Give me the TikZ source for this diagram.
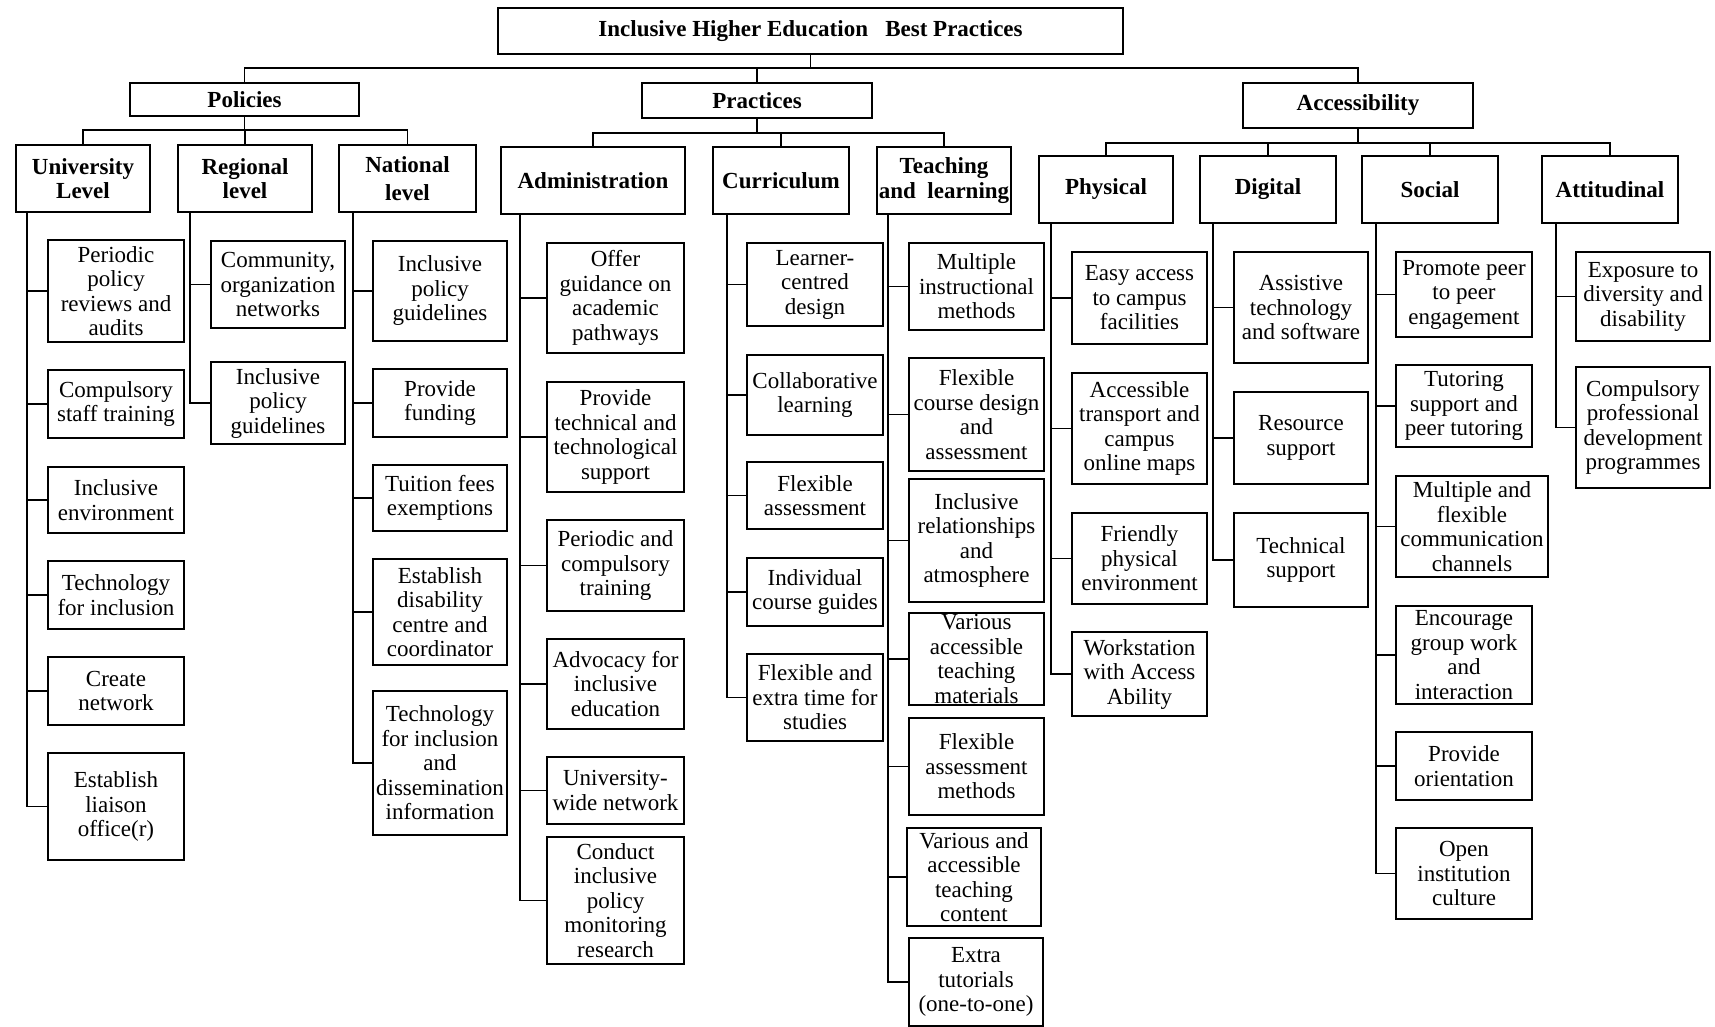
\documentclass[tikz,border=0pt]{standalone}
\usepackage{fontspec}
\setmainfont{Liberation Serif}
\newcommand\fs{\fontsize{23}{24.5}\selectfont}
\tikzset{
  box/.style={draw, line width=1.6pt, align=center, inner sep=1pt, font=\fs},
  head/.style={box, font=\fs\bfseries},
  ln/.style={line width=1.6pt}
}
% [style] name x1 y1 x2 y2 text
\newcommand\bx[7][box]{\node[#1, minimum width={(#5)-(#3)}, minimum height={(#6)-(#4)}] (#2) at ({((#3)+(#5))/2},{((#4)+(#6))/2}) {#7};}
\begin{document}
\begin{tikzpicture}[x=1pt,y=-1pt]
\fill[white] (0,0) rectangle (1715,1027);
\useasboundingbox (0,0) rectangle (1715,1027);
% top levels
\bx[head]{title}{498}{8}{1123}{54}{Inclusive Higher Education~~ Best Practices}
\bx[head]{pol}{130}{83}{359}{116}{Policies}
\bx[head]{prac}{642}{83}{872}{118}{Practices}
\bx[head]{acc}{1243}{83}{1473}{128}{Accessibility}
% second level
\bx[head]{ul}{16}{145}{150}{212}{University\\Level}
\bx[head]{rl}{178}{145}{312}{212}{Regional\\level}
\bx[head]{nl}{339}{145}{476}{212}{National\\[3pt]level}
\bx[head]{ad}{501}{147}{685}{214}{Administration}
\bx[head]{cu}{713}{147}{849}{214}{Curriculum}
\bx[head]{tl}{877}{147}{1011}{214}{Teaching\\and~ learning}
\bx[head]{ph}{1039}{156}{1173}{223}{Physical}
\bx[head]{di}{1200}{156}{1336}{223}{Digital}
\bx[head]{so}{1362}{156}{1498}{223}{Social}
\bx[head]{at}{1542}{156}{1678}{223}{Attitudinal}
% University level
\bx{u1}{48}{240}{184}{342}{Periodic\\policy\\reviews and\\audits}
\bx{u2}{48}{370}{184}{438}{Compulsory\\staff training}
\bx{u3}{48}{467}{184}{533}{Inclusive\\environment}
\bx{u4}{48}{561}{184}{629}{Technology\\for inclusion}
\bx{u5}{48}{657}{184}{725}{Create\\network}
\bx{u6}{48}{753}{184}{860}{Establish\\liaison\\office(r)}
% Regional
\bx{r1}{211}{241}{345}{328}{Community,\\organization\\networks}
\bx{r2}{211}{362}{345}{444}{Inclusive\\policy\\guidelines}
% National
\bx{n1}{373}{241}{507}{341}{Inclusive\\policy\\guidelines}
\bx{n2}{373}{369}{507}{437}{Provide\\funding}
\bx{n3}{373}{465}{507}{531}{Tuition fees\\exemptions}
\bx{n4}{373}{559}{507}{665}{Establish\\disability\\centre and\\coordinator}
\bx{n5}{373}{691}{507}{835}{Technology\\for inclusion\\and\\dissemination\\information}
% Administration
\bx{a1}{547}{243}{684}{353}{Offer\\guidance on\\academic\\pathways}
\bx{a2}{547}{382}{684}{492}{Provide\\technical and\\technological\\support}
\bx{a3}{547}{520}{684}{611}{Periodic and\\compulsory\\training}
\bx{a4}{547}{639}{684}{729}{Advocacy for\\inclusive\\education}
\bx{a5}{547}{757}{684}{824}{University-\\wide network}
\bx{a6}{547}{837}{684}{964}{Conduct\\inclusive\\policy\\monitoring\\research}
% Curriculum
\bx{c1}{747}{243}{883}{326}{Learner-\\centred\\design}
\bx{c2}{747}{355}{883}{435}{Collaborative\\learning}
\bx{c3}{747}{462}{883}{529}{Flexible\\assessment}
\bx{c4}{747}{558}{883}{626}{Individual\\course guides}
\bx{c5}{747}{654}{883}{741}{Flexible and\\extra time for\\studies}
% Teaching and learning
\bx{t1}{909}{243}{1044}{330}{Multiple\\instructional\\methods}
\bx{t2}{909}{358}{1044}{471}{Flexible\\course design\\and\\assessment}
\bx{t3}{909}{479}{1044}{602}{Inclusive\\relationships\\and\\atmosphere}
\bx{t4}{909}{613}{1044}{705}{Various\\accessible\\teaching\\materials}
\bx{t5}{909}{718}{1044}{815}{Flexible\\assessment\\methods}
\bx{t6}{907}{828}{1041}{926}{Various and\\accessible\\teaching\\content}
\bx{t7}{909}{938}{1043}{1026}{Extra\\tutorials\\(one-to-one)}
% Physical
\bx{p1}{1072}{252}{1207}{344}{Easy access\\to campus\\facilities}
\bx{p2}{1072}{373}{1207}{484}{Accessible\\transport and\\campus\\online maps}
\bx{p3}{1072}{513}{1207}{604}{Friendly\\physical\\environment}
\bx{p4}{1072}{632}{1207}{716}{Workstation\\with Access\\Ability}
% Digital
\bx{d1}{1234}{252}{1368}{363}{Assistive\\technology\\and software}
\bx{d2}{1234}{392}{1368}{484}{Resource\\support}
\bx{d3}{1234}{513}{1368}{607}{Technical\\support}
% Social
\bx{s1}{1396}{252}{1532}{337}{Promote peer\\to peer\\engagement}
\bx{s2}{1396}{365}{1532}{447}{Tutoring\\support and\\peer tutoring}
\bx{s3}{1396}{476}{1548}{577}{Multiple and\\flexible\\communication\\channels}
\bx{s4}{1396}{606}{1532}{704}{Encourage\\group work\\and\\interaction}
\bx{s5}{1396}{732}{1532}{800}{Provide\\orientation}
\bx{s6}{1396}{828}{1532}{919}{Open\\institution\\culture}
% Attitudinal
\bx{x1}{1576}{252}{1710}{341}{Exposure to\\diversity and\\disability}
\bx{x2}{1576}{367}{1710}{488}{Compulsory\\professional\\development\\programmes}
% buses
\coordinate (b0) at (0,68);
\coordinate (b1) at (0,130);
\coordinate (b2) at (0,133);
\coordinate (b3) at (0,143);
\draw[ln] (title.south) -- (title.south |- b0);
\draw[ln] (pol.north) -- (pol.north |- b0) -- (acc.north |- b0) -- (acc.north);
\draw[ln] (prac.north) -- (prac.north |- b0);
\draw[ln] (pol.south) -- (pol.south |- b1);
\draw[ln] (ul.north) -- (ul.north |- b1) -- (nl.north |- b1) -- (nl.north);
\draw[ln] (rl.north) -- (rl.north |- b1);
\draw[ln] (prac.south) -- (prac.south |- b2);
\draw[ln] (ad.north) -- (ad.north |- b2) -- (tl.north |- b2) -- (tl.north);
\draw[ln] (cu.north) -- (cu.north |- b2);
\draw[ln] (acc.south) -- (acc.south |- b3);
\draw[ln] (ph.north) -- (ph.north |- b3) -- (at.north |- b3) -- (at.north);
\draw[ln] (di.north) -- (di.north |- b3);
\draw[ln] (so.north) -- (so.north |- b3);
% trunks
\coordinate (tU) at ([xshift=12pt]ul.south west);
\coordinate (tR) at ([xshift=13pt]rl.south west);
\coordinate (tN) at ([xshift=15pt]nl.south west);
\coordinate (tA) at ([xshift=20pt]ad.south west);
\coordinate (tC) at ([xshift=15pt]cu.south west);
\coordinate (tT) at ([xshift=12pt]tl.south west);
\coordinate (tP) at ([xshift=13pt]ph.south west);
\coordinate (tD) at ([xshift=14pt]di.south west);
\coordinate (tS) at ([xshift=15pt]so.south west);
\coordinate (tX) at ([xshift=15pt]at.south west);
\foreach \c in {u1,u2,u3,u4,u5,u6} \draw[ln] (tU) |- (\c.west);
\foreach \c in {r1,r2} \draw[ln] (tR) |- (\c.west);
\foreach \c in {n1,n2,n3,n4,n5} \draw[ln] (tN) |- (\c.west);
\foreach \c in {a1,a2,a3,a4,a5,a6} \draw[ln] (tA) |- (\c.west);
\foreach \c in {c1,c2,c3,c4,c5} \draw[ln] (tC) |- (\c.west);
\foreach \c in {t1,t2,t3,t4,t5,t6,t7} \draw[ln] (tT) |- (\c.west);
\foreach \c in {p1,p2,p3,p4} \draw[ln] (tP) |- (\c.west);
\foreach \c in {d1,d2,d3} \draw[ln] (tD) |- (\c.west);
\foreach \c in {s1,s2,s3,s4,s5,s6} \draw[ln] (tS) |- (\c.west);
\foreach \c in {x1,x2} \draw[ln] (tX) |- (\c.west);
\end{tikzpicture}
\end{document}
